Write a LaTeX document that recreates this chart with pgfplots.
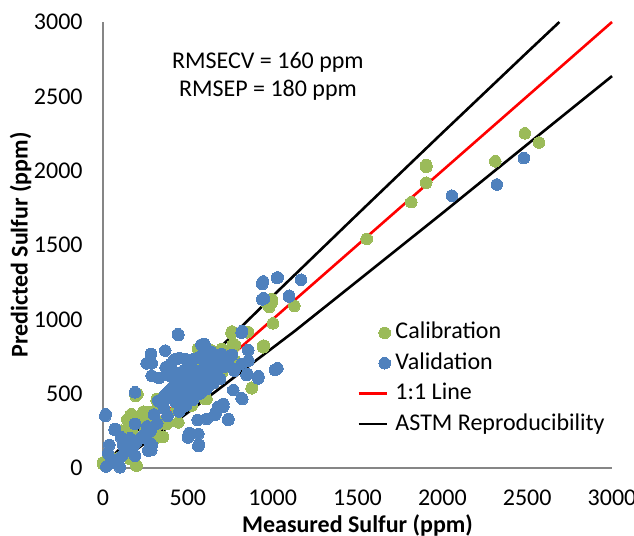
\documentclass[border=0pt]{standalone}
\usepackage{fontspec}
\setmainfont{Carlito}
\usepackage{pgfplots}
\pgfplotsset{compat=1.18}
\definecolor{calgreen}{HTML}{9BBB59}
\definecolor{valblue}{HTML}{4F81BD}
\definecolor{axisgray}{HTML}{868686}
\pgfplotsset{
  dotlegend/.style={legend image code/.code={\draw[##1] plot coordinates {(13pt,0pt)};}},
  linelegend/.style={legend image code/.code={\draw[##1] (0pt,0pt) -- (14pt,0pt);}},
}
\begin{document}
\begin{tikzpicture}
\begin{axis}[name=ax,
  width=254.5pt, height=223pt, scale only axis,
  xmin=0, xmax=3000, ymin=0, ymax=3000,
  axis x line=bottom, axis y line=left,
  axis line style={draw=axisgray, line width=0.8pt, -},
  xtick={0,500,...,3000}, ytick={0,500,...,3000},
  major tick length=0pt, tick style={draw=none},
  /pgf/number format/assume math mode=true,
  /pgf/number format/1000 sep={},
  ticklabel style={font=\fontsize{12}{14}\selectfont},
  yticklabel style={anchor=east, inner sep=0pt, xshift=-10pt},
  xticklabel style={anchor=north, inner sep=0pt, yshift=-10.7pt},
  xlabel={\bfseries Measured Sulfur (ppm)},
  ylabel={\bfseries Predicted Sulfur (ppm)},
  label style={font=\fontsize{12}{14}\selectfont},
  xlabel style={at={(axis description cs:0.5,0)}, anchor=center, yshift=-28.5pt, inner sep=0pt},
  ylabel style={at={(axis description cs:-0.162,0.5)}, anchor=center, inner sep=0pt},
  clip=false,
  legend cell align=left,
  legend style={at={(axis cs:1497,1014)}, anchor=north west, draw=none, fill=none,
    inner sep=0pt, row sep=0pt, font=\fontsize{12}{14}\selectfont,
    nodes={inner xsep=2.5pt, inner ysep=2.1pt, text height=8.5pt, text depth=2.5pt}},
]
% Calibration
\addplot[only marks, mark=*, mark size=2.9pt, mark options={draw=calgreen, fill=calgreen, line width=0pt}, dotlegend]
coordinates {
(2486,2251) (2570,2189) (2312,2063) (1905,2038) (1905,2025) (1905,1919) (1817,1788) (1554,1541)
(1128,1090) (997,1117) (980,1083) (1002,973) (949,820) (877,540) (760,918) (853,916)
(974,1103) (994,1137) (945,823) (876,536) (758,913) (847,913) (768,834) (621,801) (637,756)
(601,464) (316,453) (238,379) (267,375) (169,334) (149,263) (126,218) (208,195) (303,195)
(198,16) (0,27) (31,83) (71,38) (159,61) (375,296) (434,397) (523,420) (444,307)
(193,484) (187,345) (216,334) (246,334) (167,289) (177,222) (128,166) (295,356) (354,210)
(964,1107) (758,906) (945,812) (778,826)
(203,499) (318,465) (239,373) (167,362) (143,327) (108,252) (323,213) (196,18) (0,37) (84,64)
(420,480) (460,430) (500,470) (540,510) (580,540) (620,580) (660,610) (700,640) (740,680)
(780,720) (760,800) (720,790) (680,760) (640,740) (600,720) (560,690) (520,650) (480,600)
(440,560) (400,520) (360,470) (330,420) (300,380) (270,330) (350,310) (310,270) (250,260)
(560,800) (600,780) (640,790) (700,800) (610,465)
};
\addlegendentry{Calibration}
% Validation
\addplot[only marks, mark=*, mark size=2.9pt, mark options={draw=valblue, fill=valblue, line width=0pt}, dotlegend]
coordinates {
(2481,2084) (2321,1907) (2056,1832) (1030,1282) (944,1255) (1167,1266) (1097,1159) (949,1140)
(1028,671) (442,900) (820,920) (916,618)
(941,1249) (1026,1278) (945,1142) (1096,1153) (444,895) (367,790) (283,767) (597,834) (611,801)
(434,733) (483,733) (257,704) (287,704) (369,677) (536,733) (699,767) (817,700) (857,722)
(1024,666) (916,610) (851,633) (774,655) (287,621) (330,606) (409,543) (393,621) (464,621)
(460,554) (189,509) (326,453) (817,469) (739,330) (666,375) (709,431) (611,330) (562,229)
(509,236) (566,155) (16,361) (71,263) (106,207) (189,296) (37,155) (267,117) (287,155)
(189,83) (100,5)
(14,350) (69,256) (118,155) (30,99) (285,121) (275,170) (334,445) (363,490) (501,205)
(915,603) (846,625) (821,464) (768,524) (738,323) (562,148) (504,221) (679,412) (660,356)
(709,412) (558,323) (1013,659)
(939,1237) (939,1134) (817,910) (601,821) (591,771) (513,726) (856,793)
(400,470) (420,520) (440,560) (460,500) (480,600) (500,540) (520,620) (540,580) (560,650)
(580,600) (600,680) (620,640) (640,700) (660,660) (680,720) (700,690) (720,740) (740,700)
(760,760) (430,440) (470,480) (510,510) (550,560) (590,570) (630,610) (670,640) (710,680)
(360,400) (380,350) (450,380) (490,420) (530,460) (570,500) (610,530) (650,570) (690,600)
(350,460) (390,520) (440,640) (470,650) (500,700) (530,730) (560,740) (600,760) (640,780)
(580,830) (600,800) (450,740) (420,730) (400,700) (520,690) (480,660) (300,360) (320,300)
(280,250) (260,280) (240,220) (220,200) (200,180) (180,150) (160,200) (150,130) (130,110)
(110,80) (90,60) (60,40) (40,30) (20,10)
};
\addlegendentry{Validation}
% 1:1 line
\addplot[red, line width=1.3pt, no marks, linelegend]
coordinates {(0,0) (3000,3000)};
\addlegendentry{1:1 Line}
% ASTM upper
\addplot[black, line width=1.3pt, no marks, linelegend]
coordinates {(0,0) (50,69) (100,131) (200,250) (300,367) (500,596) (750,877) (1000,1156)
(1500,1707) (2000,2254) (2500,2796) (2690,3000)};
\addlegendentry{ASTM Reproducibility}
% ASTM lower
\addplot[black, line width=1.3pt, no marks, forget plot]
coordinates {(0,0) (50,25) (100,60) (177,112) (300,206) (500,373) (700,546) (900,722)
(1131,922) (1500,1258) (2000,1714) (2500,2176) (3000,2636)};
\node[align=center, font=\fontsize{12}{14}\selectfont] at (axis cs:972,2637)
  {RMSECV = 160 ppm\\RMSEP = 180 ppm};
\end{axis}
\pgfresetboundingbox
\path ([shift={(-51.5pt,-33.5pt)}]ax.south west) rectangle ([shift={(11pt,11pt)}]ax.north east);
\end{tikzpicture}
\end{document}
